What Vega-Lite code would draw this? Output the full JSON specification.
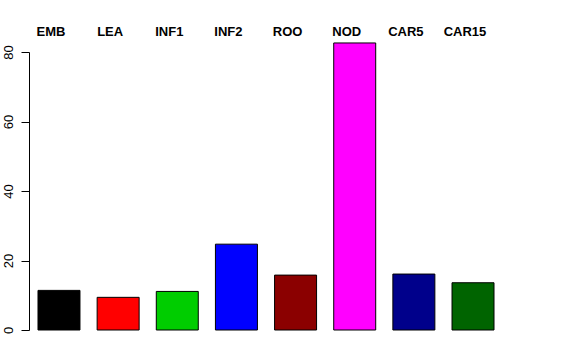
{
  "$schema": "https://vega.github.io/schema/vega-lite/v6.json",
  "autosize": "none",
  "padding": {"left": 29, "top": 52, "right": 73, "bottom": 30},
  "width": 474,
  "height": 278,
  "background": "white",
  "config": {"view": {"stroke": null}, "font": "Liberation Sans"},
  "data": {"values": [
    {"tissue": "EMB", "value": 11.4},
    {"tissue": "LEA", "value": 9.4},
    {"tissue": "INF1", "value": 11.1},
    {"tissue": "INF2", "value": 24.7},
    {"tissue": "ROO", "value": 15.8},
    {"tissue": "NOD", "value": 82.6},
    {"tissue": "CAR5", "value": 16.1},
    {"tissue": "CAR15", "value": 13.6}
  ]},
  "mark": {"type": "bar", "stroke": "black", "strokeWidth": 1, "clip": false},
  "encoding": {
    "x": {
      "field": "tissue", "type": "nominal", "sort": null,
      "scale": {"paddingInner": 0.29, "paddingOuter": 0.152},
      "axis": {
        "orient": "top", "title": null, "domain": false, "ticks": false, "tickSize": 0,
        "labelAngle": 0, "labelFontWeight": "bold", "labelFontSize": 13, "labelColor": "black",
        "labelPadding": 14, "labelOffset": -8, "labelFont": "Liberation Sans"
      }
    },
    "y": {
      "field": "value", "type": "quantitative",
      "scale": {"domain": [0, 80], "nice": false, "zero": false},
      "axis": {
        "title": null, "values": [0, 20, 40, 60, 80], "grid": false,
        "domainColor": "black", "tickColor": "black", "tickSize": 8,
        "labelAngle": -90, "labelAlign": "center", "labelBaseline": "bottom",
        "labelPadding": 6, "labelFontSize": 13, "labelColor": "black", "labelFont": "Liberation Sans"
      }
    },
    "y2": {"datum": 0},
    "color": {
      "field": "tissue", "type": "nominal", "legend": null,
      "scale": {
        "domain": ["EMB", "LEA", "INF1", "INF2", "ROO", "NOD", "CAR5", "CAR15"],
        "range": ["#000000", "#FF0000", "#00CD00", "#0000FF", "#8B0000", "#FF00FF", "#00008B", "#006400"]
      }
    }
  }
}
